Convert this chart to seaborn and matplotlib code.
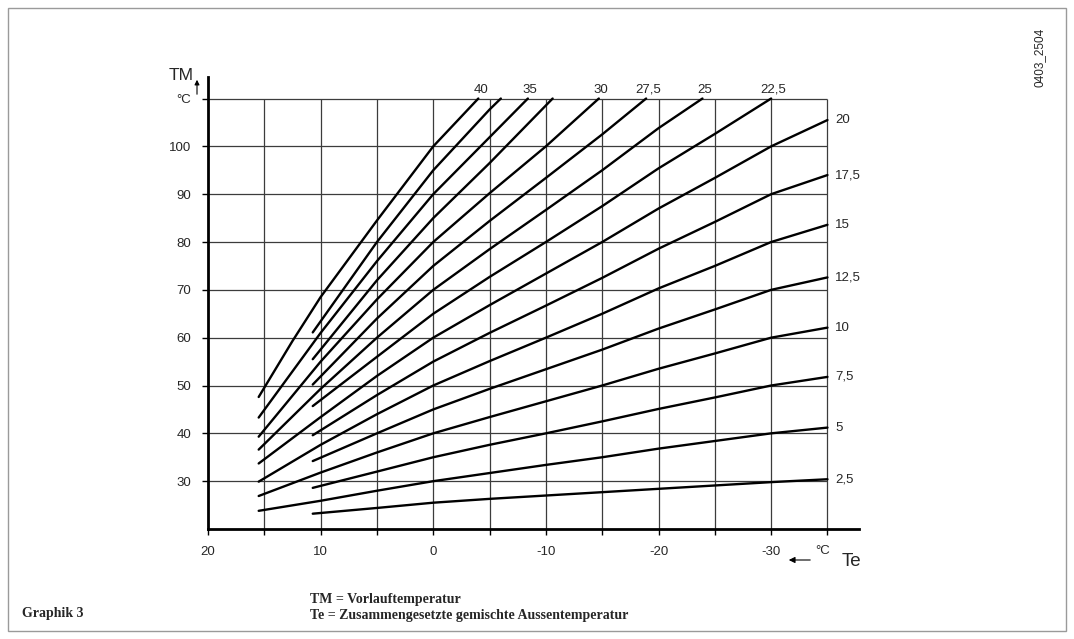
import numpy as np
import pandas as pd
import matplotlib
matplotlib.use("Agg")
import matplotlib.pyplot as plt
import seaborn as sns
from matplotlib.patches import Rectangle


# -----------------------------
# DATA
# -----------------------------

# Te = outside temperature, TM = flow temperature, one curve per slope setting
te_40 = [15.5, 12.5, 10, 5, 0, -4.0]
tm_40 = [47.6, 59.3, 68.5, 84.5, 100.0, 110.0]

te_375 = [10.7, 5, 0, -5, -6.0]
tm_375 = [61.1, 80.0, 95.0, 107.7, 110.0]

te_35 = [15.5, 10, 5, 0, -5, -8.4]
tm_35 = [43.3, 61.0, 76.0, 90.0, 101.9, 110.0]

te_325 = [10.7, 5, 0, -5, -10.6]
tm_325 = [55.5, 72.0, 85.0, 96.5, 110.0]

te_30 = [15.5, 10, 5, 0, -5, -10, -14.7]
tm_30 = [39.3, 55.0, 68.0, 80.0, 90.2, 100.0, 110.0]

te_275 = [10.7, 5, 0, -5, -10, -15, -18.9]
tm_275 = [50.2, 64.0, 75.0, 84.4, 93.4, 102.5, 110.0]

te_25 = [15.5, 10, 5, 0, -5, -10, -15, -20, -23.9]
tm_25 = [36.6, 49.3, 60.0, 70.0, 78.5, 86.7, 95.0, 103.8, 110.0]

te_225 = [10.7, 5, 0, -5, -10, -15, -20, -25, -30.0]
tm_225 = [45.7, 56.0, 65.0, 72.7, 80.0, 87.5, 95.4, 102.6, 110.0]

te_20 = [15.5, 10, 5, 0, -5, -10, -15, -20, -25, -30, -35]
tm_20 = [33.7, 43.4, 52.0, 60.0, 66.8, 73.4, 80.0, 87.0, 93.4, 100.0, 105.5]

te_175 = [10.7, 5, 0, -5, -10, -15, -20, -25, -30, -35]
tm_175 = [39.6, 48.0, 55.0, 61.0, 66.7, 72.5, 78.6, 84.2, 90.0, 94.0]

te_15 = [15.5, 10, 5, 0, -5, -10, -15, -20, -25, -30, -35]
tm_15 = [29.9, 37.6, 44.0, 50.0, 55.1, 60.0, 65.0, 70.3, 75.0, 80.0, 83.6]

te_125 = [10.7, 5, 0, -5, -10, -15, -20, -25, -30, -35]
tm_125 = [34.2, 40.0, 45.0, 49.3, 53.4, 57.5, 61.9, 65.9, 70.0, 72.6]

te_10 = [15.5, 10, 5, 0, -5, -10, -15, -20, -25, -30, -35]
tm_10 = [26.9, 31.8, 36.0, 40.0, 43.4, 46.7, 50.0, 53.5, 56.7, 60.0, 62.1]

te_75 = [10.7, 5, 0, -5, -10, -15, -20, -25, -30, -35]
tm_75 = [28.6, 32.0, 35.0, 37.6, 40.0, 42.5, 45.1, 47.5, 50.0, 51.8]

te_5 = [15.5, 10, 5, 0, -5, -10, -15, -20, -25, -30, -35]
tm_5 = [23.8, 25.9, 28.0, 30.0, 31.7, 33.4, 35.0, 36.8, 38.4, 40.0, 41.2]

te_25b = [10.7, 5, 0, -5, -10, -15, -20, -25, -30, -35]
tm_25b = [23.2, 24.4, 25.5, 26.3, 27.0, 27.7, 28.4, 29.1, 29.8, 30.4]

curves = [
    ("40", te_40, tm_40), ("37,5", te_375, tm_375), ("35", te_35, tm_35),
    ("32,5", te_325, tm_325), ("30", te_30, tm_30), ("27,5", te_275, tm_275),
    ("25", te_25, tm_25), ("22,5", te_225, tm_225), ("20", te_20, tm_20),
    ("17,5", te_175, tm_175), ("15", te_15, tm_15), ("12,5", te_125, tm_125),
    ("10", te_10, tm_10), ("7,5", te_75, tm_75), ("5", te_5, tm_5),
    ("2,5", te_25b, tm_25b),
]

top_labels = ["40", "35", "30", "27,5", "25", "22,5"]
right_labels = ["20", "17,5", "15", "12,5", "10", "7,5", "5", "2,5"]

x_major = [20, 10, 0, -10, -20, -30]
x_major_labels = ["20", "10", "0", "-10", "-20", "-30"]
x_minor = [15, 5, -5, -15, -25, -35]
grid_te = [15, 10, 5, 0, -5, -10, -15, -20, -25, -30, -35]
grid_tm = [30, 40, 50, 60, 70, 80, 90, 100, 110]
y_labels = ["30", "40", "50", "60", "70", "80", "90", "100", "°C"]


# -----------------------------
# FIGURE
# -----------------------------

sns.set_theme(style="white")
plt.rcParams['font.family'] = ['Liberation Sans', 'DejaVu Sans']

W, H = 1074, 639
fig = plt.figure(figsize=(W / 100, H / 100), dpi=100)
ax = fig.add_axes([208 / W, 1 - 529 / H, (859 - 208) / W, (529 - 77) / H])

ax.set_xlim(20, -37.8)
ax.set_ylim(20, 114.5)

# grid only inside the chart area
ax.vlines(grid_te, 20, 110, colors="#3c3c3c", lw=0.9, zorder=1)
ax.hlines(grid_tm, 20, -35, colors="#3c3c3c", lw=0.9, zorder=1)

for name, te, tm in curves:
    sns.lineplot(x=te, y=tm, ax=ax, color="black", lw=1.7,
                 sort=False, estimator=None, zorder=3)
    if name in top_labels:
        ax.text(te[-1] - 0.2, 110.6, name, ha="center", va="bottom", fontsize=9.5)
    if name in right_labels:
        ax.text(-35.7, tm[-1], name, ha="left", va="center", fontsize=9.5)

ax.set_xticks(x_major)
ax.set_xticklabels(x_major_labels)
ax.set_xticks(x_minor, minor=True)
ax.set_yticks(grid_tm)
ax.set_yticklabels(y_labels)

ax.tick_params(axis="both", which="both", direction="out", length=4, width=1,
               color="black", labelsize=9.5, pad=8)
ax.tick_params(axis="x", which="both", bottom=True)
ax.tick_params(axis="y", left=True)

for s in ["top", "right"]:
    ax.spines[s].set_visible(False)
for s in ["left", "bottom"]:
    ax.spines[s].set_linewidth(2)
    ax.spines[s].set_color("black")

ax.set_xlabel("")
ax.set_ylabel("")


# -----------------------------
# AXIS TITLES AND NOTES
# -----------------------------

fig.text(194 / W, 1 - 80 / H, "TM", ha="right", va="baseline", fontsize=12.5)
ax.annotate("", xy=(197 / W, 1 - 77 / H), xytext=(197 / W, 1 - 97 / H),
            xycoords="figure fraction", textcoords="figure fraction",
            arrowprops=dict(arrowstyle="-|>", lw=0.8, color="black", mutation_scale=7))

ax.annotate("", xy=(786 / W, 1 - 560 / H), xytext=(813 / W, 1 - 560 / H),
            xycoords="figure fraction", textcoords="figure fraction",
            arrowprops=dict(arrowstyle="-|>", lw=0.8, color="black", mutation_scale=9))
fig.text(823 / W, 1 - 551 / H, "°C", ha="center", va="center", fontsize=9.5)
fig.text(851 / W, 1 - 561 / H, "Te", ha="center", va="center", fontsize=13.5)

fig.text(1040 / W, 1 - 57 / H, "0403_2504", rotation=90, ha="center", va="center",
         fontsize=8.5)

serif = ["Liberation Serif", "DejaVu Serif"]
fig.text(310 / W, 1 - 599 / H, "TM = Vorlauftemperatur", family=serif,
         weight="bold", fontsize=10, va="center")
fig.text(310 / W, 1 - 615 / H, "Te = Zusammengesetzte gemischte Aussentemperatur",
         family=serif, weight="bold", fontsize=10, va="center")
fig.text(22 / W, 1 - 614 / H, "Graphik 3", family=serif, weight="bold",
         fontsize=10, va="center")

fig.patches.append(Rectangle((8 / W, 8 / H), 1058 / W, 623 / H, transform=fig.transFigure,
                             fill=False, edgecolor="#9a9a9a", lw=1))

fig.savefig("out.png", dpi=100)
